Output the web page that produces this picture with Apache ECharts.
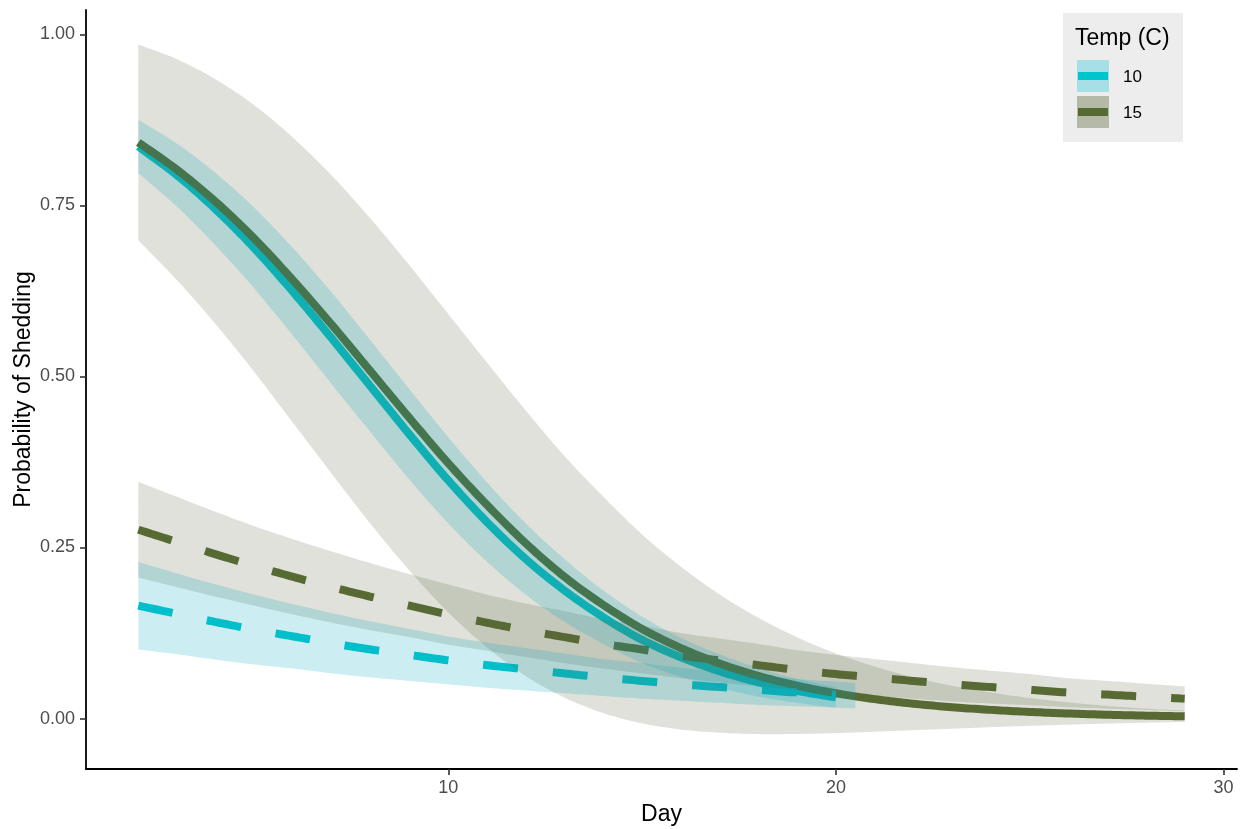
<!DOCTYPE html>
<html>
<head>
<meta charset="utf-8">
<title>Probability of Shedding by Day</title>
<script src="https://cdn.jsdelivr.net/npm/echarts@6/dist/echarts.min.js"></script>
<style>
  html, body { margin: 0; padding: 0; background: #ffffff; }
  #chart { width: 1245px; height: 829px; }
</style>
</head>
<body>
<div id="chart"></div>
<script>
// ---- data -------------------------------------------------------------
const LEGEND_TITLE = 'Temp (C)';
const TEMP_LABELS = ['10', '15'];
const X_TITLE = 'Day';
const Y_TITLE = 'Probability of Shedding';
const X_TICKS = [10, 20, 30];
const Y_TICKS = [0, 0.25, 0.5, 0.75, 1];

// 10 C
const DAYS_10 = [2, 3, 4, 5, 6, 7, 8, 9, 10, 11, 12, 13, 14, 15, 16, 17, 18, 19, 20];
const FIT_A_10 = [0.836, 0.794, 0.744, 0.687, 0.623, 0.555, 0.485, 0.415, 0.348, 0.287,
                  0.233, 0.187, 0.148, 0.115, 0.0896, 0.0691, 0.053, 0.0405, 0.0309];
const LO_A_10 = [0.797, 0.748, 0.691, 0.628, 0.559, 0.488, 0.418, 0.349, 0.285, 0.229,
                 0.181, 0.141, 0.109, 0.081, 0.061, 0.045, 0.032, 0.023, 0.016];
const HI_A_10 = [0.875, 0.840, 0.797, 0.746, 0.687, 0.622, 0.552, 0.481, 0.411, 0.345,
                 0.285, 0.233, 0.187, 0.149, 0.118, 0.094, 0.074, 0.058, 0.046];
const FIT_B_10 = [0.165, 0.153, 0.141, 0.130, 0.120, 0.110, 0.101, 0.093, 0.085, 0.078,
                  0.072, 0.066, 0.060, 0.055, 0.050, 0.046, 0.042, 0.038, 0.035];
const BAND_DAYS_B_10 = [2, 3, 4, 5, 6, 7, 8, 9, 10, 11, 12, 13, 14, 15, 16, 17, 18, 19, 20, 20.5];
const LO_B_10 = [0.101, 0.094, 0.086, 0.079, 0.073, 0.066, 0.060, 0.055, 0.050, 0.045,
                 0.041, 0.037, 0.033, 0.029, 0.026, 0.023, 0.020, 0.018, 0.016, 0.015];
const HI_B_10 = [0.229, 0.212, 0.196, 0.181, 0.167, 0.154, 0.142, 0.131, 0.120, 0.111,
                 0.103, 0.095, 0.087, 0.081, 0.074, 0.069, 0.064, 0.058, 0.054, 0.052];

// 15 C
const DAYS_15 = [2, 3, 4, 5, 6, 7, 8, 9, 10, 11, 12, 13, 14, 15, 16, 17, 18, 19, 20, 21,
                 22, 23, 24, 25, 26, 27, 28, 29];
const FIT_A_15 = [0.842, 0.802, 0.755, 0.701, 0.640, 0.575, 0.507, 0.439, 0.373, 0.312,
                  0.256, 0.207, 0.166, 0.131, 0.103, 0.0804, 0.0623, 0.0481, 0.037, 0.0284,
                  0.0217, 0.0166, 0.0127, 0.0097, 0.0074, 0.0056, 0.0043, 0.0033];
const LO_A_15 = [0.699, 0.6405, 0.576, 0.506, 0.4315, 0.357, 0.284, 0.216, 0.155, 0.104,
                 0.062, 0.0305, 0.008, -0.007, -0.016, -0.0206, -0.0227, -0.0225, -0.0212, -0.0192,
                 -0.017, -0.0147, -0.0126, -0.0106, -0.0089, -0.0073, -0.006, -0.005];
const HI_A_15 = [0.985, 0.9635, 0.934, 0.896, 0.8485, 0.793, 0.730, 0.662, 0.591, 0.520,
                 0.450, 0.3835, 0.324, 0.269, 0.222, 0.1814, 0.1473, 0.1187, 0.0952, 0.076,
                 0.0604, 0.0479, 0.038, 0.030, 0.0237, 0.0185, 0.0146, 0.0116];
const FIT_B_15 = [0.276, 0.258, 0.240, 0.223, 0.207, 0.192, 0.178, 0.165, 0.152, 0.140,
                  0.129, 0.119, 0.109, 0.101, 0.092, 0.085, 0.078, 0.071, 0.065, 0.060,
                  0.055, 0.050, 0.046, 0.042, 0.038, 0.035, 0.032, 0.029];
const LO_B_15 = [0.206, 0.192, 0.178, 0.165, 0.152, 0.140, 0.129, 0.119, 0.108, 0.099,
                 0.090, 0.081, 0.073, 0.066, 0.059, 0.053, 0.047, 0.042, 0.037, 0.033,
                 0.029, 0.025, 0.022, 0.0195, 0.0167, 0.0146, 0.0126, 0.0107];
const HI_B_15 = [0.346, 0.324, 0.302, 0.281, 0.262, 0.244, 0.227, 0.211, 0.196, 0.181,
                 0.168, 0.157, 0.145, 0.136, 0.125, 0.117, 0.109, 0.100, 0.093, 0.087,
                 0.081, 0.075, 0.070, 0.065, 0.059, 0.055, 0.051, 0.047];

// ---- styling -----------------------------------------------------------
const FONT = '"Liberation Sans", Arial, Helvetica, sans-serif';
const CYAN = '#00C5CD';
const OLIVE = '#556B2F';
const CYAN_FILL = 'rgba(0,165,190,0.2)';
const OLIVE_FILL = 'rgba(95,105,70,0.2)';
const DASH = [35, 35];

// Catmull-Rom sampling of a pixel-space polyline, for smooth curves
function spline(p) {
  const out = [p[0]];
  for (let i = 0; i < p.length - 1; i++) {
    const p0 = p[i - 1] || p[i], p1 = p[i], p2 = p[i + 1], p3 = p[i + 2] || p[i + 1];
    const c1 = [p1[0] + (p2[0] - p0[0]) / 6, p1[1] + (p2[1] - p0[1]) / 6];
    const c2 = [p2[0] - (p3[0] - p1[0]) / 6, p2[1] - (p3[1] - p1[1]) / 6];
    for (let s = 1; s <= 12; s++) {
      const t = s / 12, u = 1 - t;
      out.push([
        u * u * u * p1[0] + 3 * u * u * t * c1[0] + 3 * u * t * t * c2[0] + t * t * t * p2[0],
        u * u * u * p1[1] + 3 * u * u * t * c1[1] + 3 * u * t * t * c2[1] + t * t * t * p2[1]
      ]);
    }
  }
  return out;
}

// confidence band between lo and hi
function ribbon(name, days, lo, hi, fill) {
  return {
    name, type: 'custom', coordinateSystem: 'cartesian2d', z: 3, silent: true,
    data: [[days[0], lo[0]]],
    renderItem: (params, api) => {
      const upper = days.map((d, i) => api.coord([d, hi[i]]));
      const lower = days.map((d, i) => api.coord([d, lo[i]])).reverse();
      return {
        type: 'polygon',
        shape: { points: spline(upper).concat(spline(lower)) },
        style: { fill: fill, stroke: null }
      };
    }
  };
}

// fitted probability curve
function curve(name, days, fit, color, dash) {
  return {
    name, type: 'custom', coordinateSystem: 'cartesian2d', z: 2, silent: true,
    data: [[days[0], fit[0]]],
    renderItem: (params, api) => {
      const pts = days.map((d, i) => api.coord([d, fit[i]]));
      return {
        type: 'polyline',
        shape: { points: spline(pts) },
        style: { stroke: color, lineWidth: 8, fill: null, lineDash: dash, lineCap: 'butt', lineJoin: 'round' }
      };
    }
  };
}

const chart = echarts.init(document.getElementById('chart'), null, { renderer: 'canvas' });

const legendY = [60, 96];
const legendFills = ['#A6E0E6', '#B5B9A8'];
const legendLines = [CYAN, OLIVE];
const legendEls = [
  { type: 'rect', shape: { x: 1063, y: 13, width: 120, height: 129 }, style: { fill: '#EDEDED' } },
  { type: 'text', x: 1075, y: 39, style: { text: LEGEND_TITLE, font: '23px ' + FONT, fill: '#000', verticalAlign: 'middle' } }
];
TEMP_LABELS.forEach((lab, i) => {
  legendEls.push({ type: 'rect', shape: { x: 1077, y: legendY[i], width: 32, height: 32 }, style: { fill: legendFills[i] } });
  legendEls.push({ type: 'rect', shape: { x: 1078, y: legendY[i] + 12, width: 30, height: 8 }, style: { fill: legendLines[i] } });
  legendEls.push({ type: 'text', x: 1123, y: legendY[i] + 17, style: { text: lab, font: '17px ' + FONT, fill: '#000', verticalAlign: 'middle' } });
});

chart.setOption({
  animation: false,
  backgroundColor: '#ffffff',
  grid: { left: 86, right: 8, top: 10, bottom: 60, containLabel: false, outerBoundsMode: 'none' },
  xAxis: {
    type: 'value', min: 0.65, max: 30.35,
    name: X_TITLE, nameLocation: 'middle', nameGap: 34, nameMoveOverlap: false,
    nameTextStyle: { fontSize: 23, color: '#000', fontFamily: FONT },
    axisLine: { show: true, onZero: false, lineStyle: { color: '#000', width: 1.8 } },
    axisTick: { show: true, length: 6, customValues: X_TICKS, lineStyle: { color: '#333', width: 1.6 } },
    axisLabel: { customValues: X_TICKS, color: '#4D4D4D', fontSize: 18, fontFamily: FONT, margin: 10 },
    splitLine: { show: false }
  },
  yAxis: {
    type: 'value', min: -0.0737, max: 1.0355,
    name: Y_TITLE, nameLocation: 'middle', nameGap: 51, nameRotate: 90, nameMoveOverlap: false,
    nameTextStyle: { fontSize: 23, color: '#000', fontFamily: FONT },
    axisLine: { show: true, onZero: false, lineStyle: { color: '#000', width: 1.8 } },
    axisTick: { show: true, length: 6, customValues: Y_TICKS, lineStyle: { color: '#333', width: 1.6 } },
    axisLabel: { customValues: Y_TICKS, color: '#4D4D4D', fontSize: 18, fontFamily: FONT, margin: 11,
                 formatter: v => v.toFixed(2) },
    splitLine: { show: false }
  },
  graphic: legendEls,
  series: [
    curve('A 10', DAYS_10, FIT_A_10, CYAN, null),
    curve('A 15', DAYS_15, FIT_A_15, OLIVE, null),
    curve('B 10', DAYS_10, FIT_B_10, CYAN, DASH),
    curve('B 15', DAYS_15, FIT_B_15, OLIVE, DASH),
    ribbon('A 15 band', DAYS_15, LO_A_15, HI_A_15, OLIVE_FILL),
    ribbon('B 15 band', DAYS_15, LO_B_15, HI_B_15, OLIVE_FILL),
    ribbon('A 10 band', DAYS_10, LO_A_10, HI_A_10, CYAN_FILL),
    ribbon('B 10 band', BAND_DAYS_B_10, LO_B_10, HI_B_10, CYAN_FILL)
  ]
});
</script>
</body>
</html>
